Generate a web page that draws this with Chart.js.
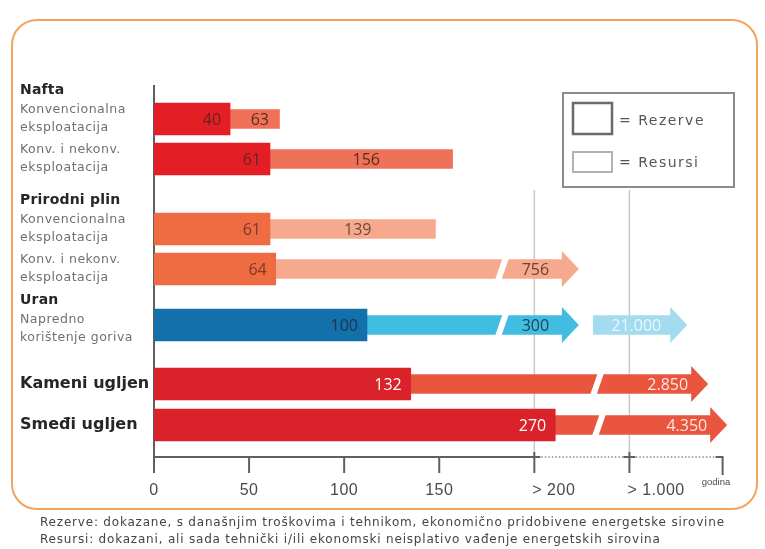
<!DOCTYPE html>
<html lang="hr">
<head>
<meta charset="UTF-8">
<title>Rezerve i resursi energetskih sirovina</title>
<style>
  body { margin: 0; background: #fff; }
  #wrap { position: relative; width: 765px; height: 549px; overflow: hidden; }
  #frame { position: absolute; left: 11px; top: 19px; width: 743px; height: 487px;
           border: 2px solid #f2a45e; border-radius: 26px; }
  canvas { position: absolute; left: 0; top: 0; }
  .note { position: absolute; left: 40px; font-family: "DejaVu Sans", sans-serif; font-size: 12px;
          color: #444; white-space: nowrap; letter-spacing: 0.8px; }
</style>
</head>
<body>
<div id="wrap">
  <div id="frame"></div>
  <canvas id="chart" width="765" height="549"></canvas>
  <div class="note" style="top:515px">Rezerve: dokazane, s današnjim troškovima i tehnikom, ekonomično pridobivene energetske sirovine</div>
  <div class="note" style="top:532px">Resursi: dokazani, ali sada tehnički i/ili ekonomski neisplativo vađenje energetskih sirovina</div>
</div>

<script src="https://cdn.jsdelivr.net/npm/chart.js"></script>
<script>
// ---- podaci ----
const groups    = ['Nafta', 'Nafta', 'Prirodni plin', 'Prirodni plin', 'Uran', 'Kameni ugljen', 'Smeđi ugljen'];
const subLabels = [['Konvencionalna', 'eksploatacija'], ['Konv. i nekonv.', 'eksploatacija'],
                   ['Konvencionalna', 'eksploatacija'], ['Konv. i nekonv.', 'eksploatacija'],
                   ['Napredno', 'korištenje goriva'], [], []];

// ispisane vrijednosti (godine)
const reserveText  = ['40', '61', '61', '64', '100', '132', '270'];
const resourceText = ['63', '156', '139', '756', '300', '2.850', '4.350'];
const extraText    = [null, null, null, null, '21.000', null, null];

// duljine kako su nacrtane na prekinutoj osi (0-200 linearno, 200 = "> 200", 250 = "> 1.000")
const reserveLen  = [40, 61, 61, 64, 112, 135, 211];
const resourceLen = [66, 157, 148, 215, 215, 283, 293];
const breakAt     = [null, null, null, 183, 183, 233, 234];
const hasArrow    = [false, false, false, true, true, true, true];
const extraLen    = [null, null, null, null, [231, 272], null, null];

// os x
const tickValues = [0, 50, 100, 150, 200, 250];
const tickLabels = ['0', '50', '100', '150', '> 200', '> 1.000'];

// ---- izgled ----
const rowGap = [0, 1, 1.75, 1, 1.4, 1.475, 1.025];
const rowPos = [];
rowGap.forEach((g, i) => rowPos.push(i ? rowPos[i - 1] + g : 0));

const reserveColor      = ['#e31e24', '#e31e24', '#ef6c42', '#ef6c42', '#1470ab', '#d9222a', '#d9222a'];
const resourceColor     = ['#ef7258', '#ef7258', '#f6a98c', '#f6a98c', '#40bde0', '#e9553f', '#e9553f'];
const extraColor        = '#a3dbef';
const reserveTextColor  = ['#6b2320', '#6b2320', '#7a3a25', '#7a3a25', '#1c3550', '#ffffff', '#ffffff'];
const resourceTextColor = ['#5e2a22', '#5e2a22', '#6e4a3c', '#6a4236', '#1f4257', '#fde7e0', '#fde7e0'];

const rows = groups.map((g, i) => i);
const numFont = '16px "Open Sans", sans-serif';

function arrowHead(ctx, x, y, color) {
  ctx.fillStyle = color;
  ctx.beginPath();
  ctx.moveTo(x - 1, y - 18);
  ctx.lineTo(x + 16, y);
  ctx.lineTo(x - 1, y + 18);
  ctx.closePath();
  ctx.fill();
}

const extras = {
  id: 'extras',
  beforeDatasetsDraw(chart) {
    const { ctx } = chart;
    const xs = chart.scales.x, ys = chart.scales.y;
    const x0 = xs.getPixelForValue(0);
    const axisY = ys.bottom;
    ctx.save();
    // okomite linije kod prekida
    ctx.strokeStyle = '#c9c9c9';
    ctx.lineWidth = 1.5;
    [200, 250].forEach(v => {
      const x = xs.getPixelForValue(v);
      ctx.beginPath(); ctx.moveTo(x, 190); ctx.lineTo(x, axisY); ctx.stroke();
    });
    // lijeva os
    ctx.strokeStyle = '#5f5f5f';
    ctx.lineWidth = 2;
    ctx.beginPath(); ctx.moveTo(x0, 85); ctx.lineTo(x0, axisY); ctx.stroke();
    // donja os
    const x200 = xs.getPixelForValue(200), xEnd = xs.getPixelForValue(299);
    ctx.beginPath(); ctx.moveTo(x0, axisY); ctx.lineTo(x200, axisY); ctx.stroke();
    ctx.setLineDash([1.5, 2]);
    ctx.strokeStyle = '#8a8a8a';
    ctx.lineWidth = 1.5;
    ctx.beginPath(); ctx.moveTo(x200, axisY); ctx.lineTo(xEnd, axisY); ctx.stroke();
    ctx.setLineDash([]);
    ctx.strokeStyle = '#5f5f5f';
    ctx.lineWidth = 2;
    tickValues.forEach(v => {
      const x = xs.getPixelForValue(v);
      ctx.beginPath(); ctx.moveTo(x, v >= 200 ? axisY - 5 : axisY); ctx.lineTo(x, axisY + 16); ctx.stroke();
      if (v >= 200) { ctx.beginPath(); ctx.moveTo(x - 6, axisY); ctx.lineTo(x + 6, axisY); ctx.stroke(); }
    });
    ctx.beginPath(); ctx.moveTo(xEnd - 7, axisY); ctx.lineTo(xEnd, axisY); ctx.lineTo(xEnd, axisY + 18); ctx.stroke();
    // oznake osi
    ctx.fillStyle = '#4a4a4a';
    ctx.font = '16px "Liberation Sans", Arial, sans-serif';
    ctx.letterSpacing = '0.5px';
    ctx.textBaseline = 'middle';
    tickValues.forEach((v, i) => {
      const x = xs.getPixelForValue(v);
      ctx.textAlign = v >= 200 ? 'left' : 'center';
      ctx.fillText(tickLabels[i], v >= 200 ? x - 2 : x, axisY + 34);
    });
    ctx.letterSpacing = '0px';
    ctx.font = '9.5px "Liberation Sans", Arial, sans-serif';
    ctx.textAlign = 'left';
    ctx.fillText('godina', xs.getPixelForValue(288), axisY + 25);
    ctx.restore();
  },
  afterDatasetsDraw(chart) {
    const { ctx } = chart;
    const xs = chart.scales.x, ys = chart.scales.y;
    const resMeta = chart.getDatasetMeta(1);
    ctx.save();
    // prekidi i strelice
    rows.forEach(i => {
      const y = ys.getPixelForValue(rowPos[i]);
      const h = resMeta.data[i].height;
      if (breakAt[i] !== null) {
        const x = xs.getPixelForValue(breakAt[i]);
        ctx.strokeStyle = '#ffffff';
        ctx.lineWidth = 6;
        ctx.beginPath(); ctx.moveTo(x - 4, y + h / 2 + 2); ctx.lineTo(x + 4, y - h / 2 - 2); ctx.stroke();
      }
      if (hasArrow[i]) arrowHead(ctx, xs.getPixelForValue(resourceLen[i]), y, resourceColor[i]);
      if (extraLen[i]) arrowHead(ctx, xs.getPixelForValue(extraLen[i][1]), y, extraColor);
    });
    // brojevi u stupcima
    ctx.font = numFont;
    ctx.textBaseline = 'middle';
    rows.forEach(i => {
      const y = ys.getPixelForValue(rowPos[i]) + 1;
      ctx.fillStyle = reserveTextColor[i];
      ctx.textAlign = 'right';
      ctx.fillText(reserveText[i], xs.getPixelForValue(reserveLen[i]) - 9, y);
      ctx.fillStyle = resourceTextColor[i];
      if (breakAt[i] === null) {
        ctx.textAlign = 'center';
        ctx.fillText(resourceText[i], (xs.getPixelForValue(reserveLen[i]) + xs.getPixelForValue(resourceLen[i])) / 2 + 5, y);
      } else if (i < 5) {
        ctx.textAlign = 'center';
        ctx.fillText(resourceText[i], (xs.getPixelForValue(breakAt[i]) + xs.getPixelForValue(resourceLen[i])) / 2 + 3, y);
      } else {
        ctx.textAlign = 'right';
        ctx.fillText(resourceText[i], xs.getPixelForValue(resourceLen[i]) - 4, y);
      }
      if (extraText[i]) {
        ctx.fillStyle = '#e9f7fc';
        ctx.textAlign = 'center';
        ctx.fillText(extraText[i], (xs.getPixelForValue(extraLen[i][0]) + xs.getPixelForValue(extraLen[i][1])) / 2 + 4, y);
      }
    });
    // lijeve oznake
    ctx.textAlign = 'left';
    rows.forEach(i => {
      const y = ys.getPixelForValue(rowPos[i]);
      const first = i === 0 || groups[i] !== groups[i - 1];
      ctx.letterSpacing = '0px';
      if (!subLabels[i].length) {
        ctx.fillStyle = '#262626';
        ctx.font = 'bold 16px "DejaVu Sans", sans-serif';
        ctx.fillText(groups[i], 20, y);
        return;
      }
      const single = groups.filter(g => g === groups[i]).length === 1;
      const top = y + (single ? -5.5 : -9.5);
      ctx.fillStyle = '#707070';
      ctx.font = '12.5px "DejaVu Sans", sans-serif';
      ctx.letterSpacing = '0.5px';
      ctx.fillText(subLabels[i][0], 20, top);
      ctx.fillText(subLabels[i][1], 20, top + 18);
      if (first) {
        ctx.fillStyle = '#262626';
        ctx.font = 'bold 14px "DejaVu Sans", sans-serif';
        ctx.letterSpacing = '0.2px';
        ctx.fillText(groups[i], 20, top - 19);
      }
    });
    // legenda
    ctx.letterSpacing = '0px';
    ctx.strokeStyle = '#8c8c8c';
    ctx.lineWidth = 2;
    ctx.strokeRect(563, 93, 171, 94);
    ctx.strokeStyle = '#6a6a6a';
    ctx.lineWidth = 2.5;
    ctx.strokeRect(573, 103, 39, 31);
    ctx.strokeStyle = '#b2b2b2';
    ctx.lineWidth = 2;
    ctx.strokeRect(573, 152, 39, 20);
    ctx.fillStyle = '#555';
    ctx.font = '14px "DejaVu Sans", sans-serif';
    ctx.letterSpacing = '1.5px';
    ctx.fillText('= Rezerve', 619, 121);
    ctx.fillText('= Resursi', 619, 163);
    ctx.restore();
  }
};

new Chart(document.getElementById('chart'), {
  type: 'bar',
  data: {
    datasets: [
      {
        label: 'Rezerve',
        data: rows.map(i => ({ y: rowPos[i], x: [0, reserveLen[i]] })),
        backgroundColor: reserveColor,
        barThickness: 32
      },
      {
        label: 'Resursi',
        data: rows.map(i => ({ y: rowPos[i], x: [reserveLen[i], resourceLen[i]] })),
        backgroundColor: resourceColor,
        barThickness: 19
      },
      {
        label: 'Resursi (dalje)',
        data: rows.filter(i => extraLen[i]).map(i => ({ y: rowPos[i], x: extraLen[i] })),
        backgroundColor: extraColor,
        barThickness: 19
      }
    ]
  },
  options: {
    indexAxis: 'y',
    responsive: false,
    animation: false,
    layout: { padding: { left: 154, right: 31, top: 81, bottom: 92 } },
    datasets: { bar: { grouped: false, borderWidth: 0 } },
    scales: {
      x: { type: 'linear', min: 0, max: 305, offset: false, display: false },
      y: { type: 'linear', min: -0.95, max: 8.45, reverse: true, offset: false, display: false }
    },
    plugins: { legend: { display: false }, tooltip: { enabled: false } }
  },
  plugins: [extras]
});
</script>
</body>
</html>
